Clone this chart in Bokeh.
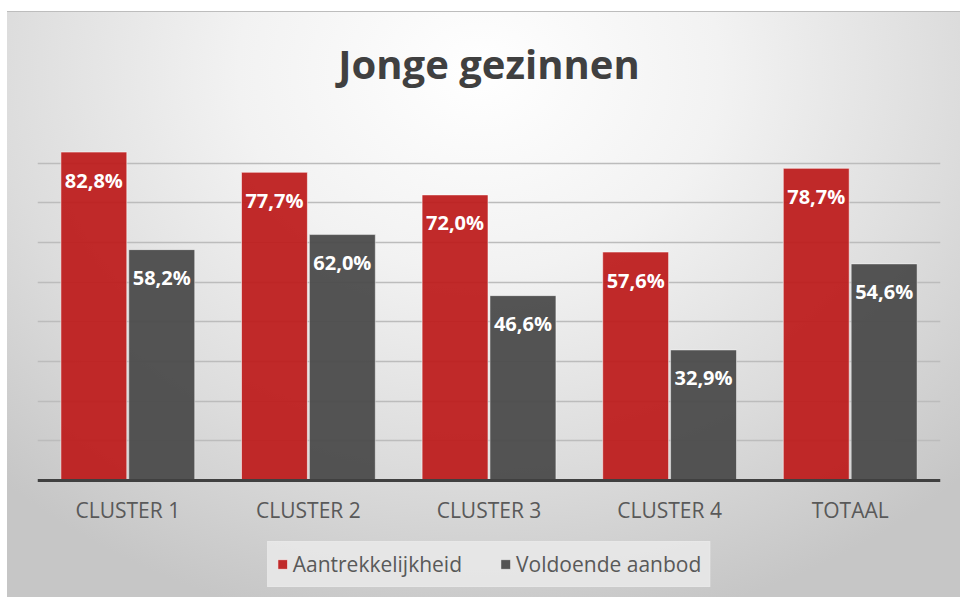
from bokeh.plotting import figure
from bokeh.models import ColumnDataSource, FactorRange, Range1d, FixedTicker, Legend, LegendItem, Span
from bokeh.transform import dodge
from bokeh.core.properties import value
from bokeh.embed import file_html
from bokeh.resources import INLINE

# ---- data ----
categories = ["CLUSTER 1", "CLUSTER 2", "CLUSTER 3", "CLUSTER 4", "TOTAAL"]
aantrekkelijkheid = [82.8, 77.7, 72.0, 57.6, 78.7]
voldoende_aanbod = [58.2, 62.0, 46.6, 32.9, 54.6]
series_names = ["Aantrekkelijkheid", "Voldoende aanbod"]
grid_ticks = [10, 20, 30, 40, 50, 60, 70, 80, 90]
y_max = 90


def fmt(v):
    return f"{v:.1f}".replace(".", ",") + "%"


src = ColumnDataSource(dict(
    cat=categories,
    base=[0] * len(categories),
    a=aantrekkelijkheid,
    v=voldoende_aanbod,
    a_lbl=[fmt(x) for x in aantrekkelijkheid],
    v_lbl=[fmt(x) for x in voldoende_aanbod],
))

FONT = "Open Sans"
RED = "#BD1D1D"
GRAY = "#4B4B4B"

# ---- layout geometry (pixels) ----
W, H = 960, 597
FRAME_TOP, BASELINE = 123, 480           # top of value axis (90%) and the 0-line
plot_px = BASELINE - FRAME_TOP
below_px = H - BASELINE                  # room under the 0-line for labels + legend
y_min = -y_max * below_px / plot_px

p = figure(
    x_range=FactorRange(*categories, range_padding=0),
    y_range=Range1d(y_min, y_max),
    width=W, height=H,
    output_backend="svg", toolbar_location=None,
    min_border_left=37, min_border_right=20,
    min_border_top=FRAME_TOP, min_border_bottom=0,
)
p.styles = {
    "background": (
        "linear-gradient(#ffffff,#ffffff) 0 0 / 100% 11px no-repeat, "
        "linear-gradient(#ffffff,#ffffff) 0 0 / 7px 100% no-repeat, "
        "linear-gradient(#bdbdbd,#bdbdbd) 0 11px / 100% 1px no-repeat, "
        "radial-gradient(ellipse 72% 95% at 50% 12%, #ffffff 0%, #f2f2f2 35%, "
        "#dcdcdc 70%, #c6c6c6 100%)"
    )
}
p.background_fill_color = None
p.border_fill_color = None
p.outline_line_color = None

# title
p.title.text = "Jonge gezinnen"
p.title.align = "center"
p.title.text_font = FONT
p.title.text_font_size = "40px"
p.title.text_font_style = "bold"
p.title.text_color = "#404040"
p.title.standoff = 66

# grid (drawn first, behind the bars)
p.xaxis.visible = False
p.yaxis.visible = False
p.xgrid.grid_line_color = None
p.ygrid.ticker = FixedTicker(ticks=grid_ticks)
p.ygrid.grid_line_color = "#bcbcbc"
p.ygrid.grid_line_width = 1.6

# bars
w = 0.365
off = 0.188
r1 = p.vbar(x=dodge("cat", -off, range=p.x_range), top="a", bottom="base", width=w, source=src,
            fill_color=RED, fill_alpha=0.94, line_color="white", line_alpha=0.55, line_width=1)
r2 = p.vbar(x=dodge("cat", off, range=p.x_range), top="v", bottom="base", width=w, source=src,
            fill_color=GRAY, fill_alpha=0.95, line_color="white", line_alpha=0.45, line_width=1)

# category axis line at 0
p.add_layout(Span(location=0, dimension="width", line_color="#404040", line_width=3))

# category labels under the axis line
p.text(x="cat", y="base", text="cat", source=src,
       text_font=value(FONT), text_font_size="21px", text_color="#595959",
       text_align="center", text_baseline="middle", y_offset=29)

# data labels inside the bar tops
for col, lbl, d in (("a", "a_lbl", -off), ("v", "v_lbl", off)):
    p.text(x=dodge("cat", d, range=p.x_range), y=col, text=lbl, source=src,
           text_font=value(FONT), text_font_size="20px", text_font_style="bold",
           text_color="white", text_align="center", text_baseline="middle",
           y_offset=28)

# legend
legend = Legend(
    items=[LegendItem(label=series_names[0], renderers=[r1]),
           LegendItem(label=series_names[1], renderers=[r2])],
    orientation="horizontal", location="bottom_center",
    label_text_font=FONT, label_text_font_size="21px", label_text_color="#595959",
    glyph_width=12, glyph_height=12, label_standoff=5, spacing=37,
    padding=8, margin=10, label_height=21,
    background_fill_color="#e8e8e8", background_fill_alpha=0.9,
    border_line_color="#e8e8e8", border_line_alpha=0.9, border_line_width=1,
)
p.add_layout(legend, "center")

open("out.html", "w").write(file_html(p, INLINE))
